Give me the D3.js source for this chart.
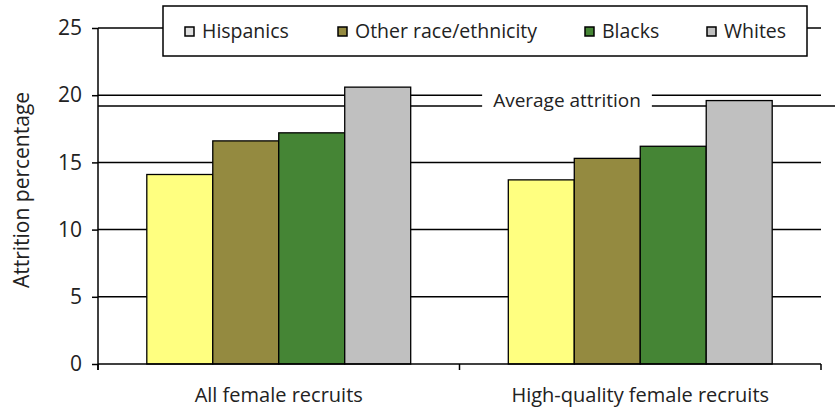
<!DOCTYPE html>
<html lang="en">
<head>
<meta charset="utf-8">
<title>Attrition by race/ethnicity</title>
<style>
  body { margin: 0; background: #fff; }
  svg text { font-family: "Open Sans", sans-serif; fill: #222; }
</style>
</head>
<body>
<div id="chart"></div>
<script src="https://cdn.jsdelivr.net/npm/d3@7"></script>
<script>
var groups = ["All female recruits", "High-quality female recruits"];
var series = ["Hispanics", "Other race/ethnicity", "Blacks", "Whites"];
var hispanics = [14.1, 13.7];
var other = [16.6, 15.3];
var blacks = [17.2, 16.2];
var whites = [20.6, 19.6];
var averageAttrition = 19.2;
var yTicks = [0, 5, 10, 15, 20, 25];

var barColors = ["#ffff80", "#948a40", "#458535", "#c0c0c0"];
var swatchColors = ["#e0e0e0", "#948a40", "#458535", "#c0c0c0"];

var width = 835, height = 413;
var margin = {top: 28, right: 14, bottom: 49, left: 98};

var values = [hispanics, other, blacks, whites];
var data = groups.map(function(g, i) {
  return {group: g, bars: series.map(function(s, j) { return {key: s, idx: j, value: values[j][i]}; })};
});

var svg = d3.select("#chart").append("svg")
  .attr("width", width).attr("height", height);

var x0 = d3.scaleBand().domain(groups)
  .range([margin.left, width - margin.right])
  .paddingInner(0.27).paddingOuter(0.135);
var x1 = d3.scaleBand().domain(series).range([0, x0.bandwidth()]);
var y = d3.scaleLinear().domain([0, 25]).range([height - margin.bottom, margin.top]);

// gridlines
svg.append("g").selectAll("line").data(yTicks.slice(1)).enter().append("line")
  .attr("x1", margin.left).attr("x2", width - margin.right)
  .attr("y1", function(d) { return y(d); }).attr("y2", function(d) { return y(d); })
  .attr("stroke", "#000").attr("stroke-width", 1.5);

// average line
svg.append("line")
  .attr("x1", margin.left).attr("x2", width)
  .attr("y1", y(averageAttrition)).attr("y2", y(averageAttrition))
  .attr("stroke", "#000").attr("stroke-width", 1.5);

// bars
svg.append("g").selectAll("g").data(data).enter().append("g")
  .attr("transform", function(d) { return "translate(" + x0(d.group) + ",0)"; })
  .selectAll("rect").data(function(d) { return d.bars; }).enter().append("rect")
  .attr("x", function(d) { return x1(d.key); })
  .attr("width", x1.bandwidth())
  .attr("y", function(d) { return y(d.value); })
  .attr("height", function(d) { return y(0) - y(d.value); })
  .attr("fill", function(d) { return barColors[d.idx]; })
  .attr("stroke", "#000").attr("stroke-width", 1.3);

// average label
var avgY = (y(20) + y(averageAttrition)) / 2;
var avgText = svg.append("text")
  .attr("x", 567).attr("y", avgY)
  .attr("dy", "0.35em")
  .attr("text-anchor", "middle")
  .attr("font-size", 19)
  .text("Average attrition");
var bb = avgText.node().getBBox();
svg.insert("rect", "text")
  .attr("x", bb.x - 11).attr("width", bb.width + 22)
  .attr("y", y(20) - 2).attr("height", y(averageAttrition) - y(20) + 4)
  .attr("fill", "#fff");

// y axis
var yAxis = svg.append("g")
  .attr("transform", "translate(" + margin.left + ",0)")
  .call(d3.axisLeft(y).tickValues(yTicks).tickSize(6).tickPadding(10));
yAxis.select(".domain").attr("d", "M0," + y(25) + "V" + (y(0) + 6));
yAxis.selectAll("line").attr("stroke", "#000").attr("stroke-width", 1.5);
yAxis.select(".domain").attr("stroke", "#000").attr("stroke-width", 1.5);
yAxis.selectAll("text").attr("font-size", 21).attr("font-family", "'Open Sans', sans-serif").attr("fill", "#222");

// x axis
var xAxisG = svg.append("g");
xAxisG.append("line")
  .attr("x1", margin.left).attr("x2", width - margin.right)
  .attr("y1", y(0)).attr("y2", y(0))
  .attr("stroke", "#000").attr("stroke-width", 1.5);
var bounds = [margin.left, (margin.left + width - margin.right) / 2, width - margin.right];
xAxisG.selectAll(".xt").data(bounds).enter().append("line")
  .attr("x1", function(d) { return d; }).attr("x2", function(d) { return d; })
  .attr("y1", y(0)).attr("y2", y(0) + 6)
  .attr("stroke", "#000").attr("stroke-width", 1.5);
xAxisG.selectAll("text").data(groups).enter().append("text")
  .attr("x", function(d) { return x0(d) + x0.bandwidth() / 2; })
  .attr("y", y(0) + 38)
  .attr("text-anchor", "middle")
  .attr("font-size", 20)
  .text(function(d) { return d; });

// y title
svg.append("text")
  .attr("transform", "translate(29," + ((y(0) + y(25)) / 2 - 6) + ") rotate(-90)")
  .attr("text-anchor", "middle")
  .attr("font-size", 21)
  .text("Attrition percentage");

// legend
var legend = svg.append("g");
legend.append("rect")
  .attr("x", 163).attr("y", 6).attr("width", 644).attr("height", 50)
  .attr("fill", "#fff").attr("stroke", "#000").attr("stroke-width", 1.5);
var legendX = [185, 338, 585, 707];
var items = legend.selectAll(".li").data(series).enter().append("g")
  .attr("transform", function(d, i) { return "translate(" + legendX[i] + ",31)"; });
items.append("rect")
  .attr("x", 0).attr("y", -4).attr("width", 9).attr("height", 9)
  .attr("fill", function(d, i) { return swatchColors[i]; })
  .attr("stroke", "#000").attr("stroke-width", 1.5);
items.append("text")
  .attr("x", 17).attr("y", 0).attr("dy", "0.35em")
  .attr("font-size", 19.5)
  .text(function(d) { return d; });
</script>
</body>
</html>
